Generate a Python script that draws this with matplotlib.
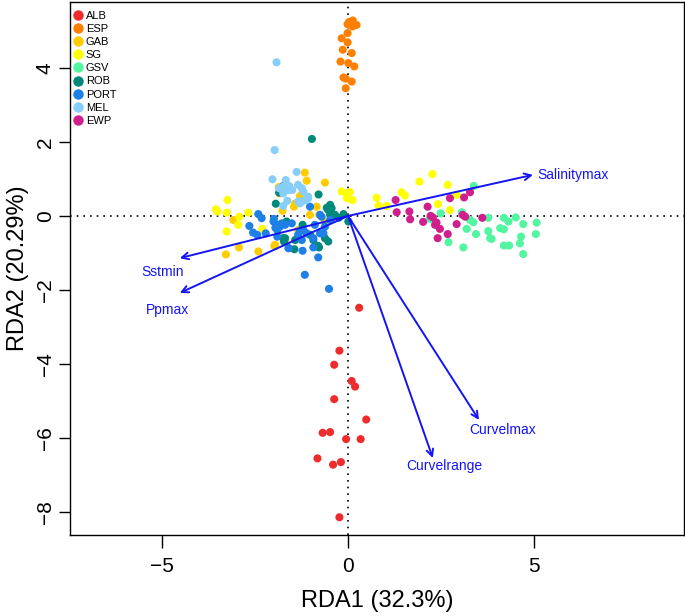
import matplotlib.pyplot as plt
from matplotlib.lines import Line2D

plt.rcParams['font.family'] = ['Liberation Sans', 'DejaVu Sans']

# ── Data (site scores by population) ──────────
groups = ["ALB", "ESP", "GAB", "SG", "GSV", "ROB", "PORT", "MEL", "EWP"]
colors = ["#EE2C2C", "#FF8000", "#FFCC00", "#FFFF00", "#52F5A0",
          "#00897B", "#1E7FE6", "#87CEFA", "#D01F8C"]

alb_x = [0.30, -0.23, -0.37, 0.10, 0.19, -0.37, 0.49, -0.68, -0.48, -0.05, 0.34, -0.82, -0.40, -0.19, -0.23]
alb_y = [-2.48, -3.64, -4.02, -4.46, -4.61, -4.95, -5.50, -5.86, -5.84, -6.03, -6.03, -6.55, -6.72, -6.65, -8.14]

esp_x = [0.03, 0.13, 0.23, 0.12, -0.01, -0.01, -0.17, -0.01, -0.14, 0.10, -0.20, 0.01, 0.17, -0.12, -0.06, 0.10, -0.06]
esp_y = [5.24, 5.28, 5.16, 5.12, 5.18, 4.94, 4.80, 4.69, 4.49, 4.40, 4.17, 4.13, 4.04, 3.74, 3.71, 3.63, 3.45]

gab_x = [-3.08, -2.93, -2.41, -3.28, -1.98, -1.76, -1.86, -1.16, -1.11, -0.62, -1.29, -1.45, -1.02,
         -1.72, -1.34, -0.62, -1.83, -1.42, -1.27, -0.77, -0.84, -1.96, -1.69]
gab_y = [-0.11, -0.85, -0.96, -1.04, -0.81, 0.14, 0.78, 1.17, 0.95, 0.90, 0.54, 0.25, 0.03,
         -0.62, -0.38, -0.15, 0.61, 0.34, 0.39, 0.03, 0.25, -0.78, -0.69]

sg_x = [-3.24, -3.55, -3.51, -3.26, -2.92, -2.95, -2.68, -3.26, -2.30, -0.17, -0.03, 0.05, 0.12, -0.03,
        0.77, 0.82, 1.04, 1.44, 1.53, 1.92, 2.27, 2.68, 2.42, 2.74, 2.92]
sg_y = [0.43, 0.18, 0.12, 0.09, -0.02, -0.24, 0.09, -0.42, -0.35, 0.66, 0.61, 0.64, 0.43, 0.48,
        0.49, 0.28, 0.27, 0.64, 0.55, 0.93, 1.13, 0.84, 0.32, 0.16, 0.57]

gsv_x = [3.38, 2.49, 2.20, 3.06, 3.28, 3.37, 3.77, 3.19, 3.44, 3.77, 3.82, 3.86, 4.09, 4.19,
         4.19, 4.31, 4.51, 4.71, 5.07, 5.05, 4.65, 2.70, 3.10, 4.19, 4.33, 4.62, 4.71]
gsv_y = [0.81, 0.07, -0.08, 0.10, -0.11, -0.17, -0.05, -0.35, -0.49, -0.41, -0.60, -0.62, -0.33, -0.36,
         -0.05, -0.15, -0.04, -0.22, -0.18, -0.49, -0.56, -0.71, -0.85, -0.80, -0.80, -0.74, -1.03]

rob_x = [-0.97, -1.94, -0.79, -1.85, -0.48, -0.44, -0.53, -0.35, -0.48, -0.40, -0.57, -1.65, -1.22,
         -1.02, -0.93, -1.42, -1.69, -1.72, -0.62, -0.80, -0.53, -1.44, -1.74, -0.78, 0.01, -0.25, -0.12]
rob_y = [2.08, 0.33, 0.58, 0.63, 0.30, 0.21, 0.16, 0.03, 0.03, -0.02, 0.22, -0.15, -0.24,
         -0.51, -0.65, -0.65, -0.60, -0.69, -0.60, -0.81, -0.69, -0.90, -0.60, -0.85, -0.15, -0.05, 0.05]

port_x = [-2.41, -2.32, -2.65, -2.55, -2.44, -2.21, -1.99, -1.91, -1.83, -1.90, -1.78, -1.69, -1.90,
          -1.60, -1.74, -1.02, -1.51, -1.29, -1.20, -1.11, -1.34, -1.24, -0.75, -0.75, -0.93, -1.59,
          -1.22, -0.93, -0.80, -1.16, -0.62, -0.48, -0.71, -0.89, -0.66, -0.51, -2.00, -1.95]
port_y = [0.05, -0.06, -0.27, -0.45, -0.51, -0.47, -0.08, -0.24, -0.29, -0.38, -0.20, -0.24, -0.56,
          -0.87, 0.81, 0.25, -0.20, -0.42, -0.38, -0.47, -0.51, -0.65, 0.03, -0.47, -0.60, -0.87,
          -0.94, -0.85, -1.12, -1.59, -0.29, -0.11, -0.02, -0.24, -0.47, -1.97, -0.15, -0.32]

mel_x = [-1.92, -1.97, -2.03, -1.38, -1.74, -1.58, -1.60, -1.34, -1.24, -1.20, -1.07, -1.74, -1.63,
         -1.74, -1.34, -1.20, -1.07, -1.67, -1.29, -1.11, -1.50, -1.85]
mel_y = [4.15, 1.78, 0.99, 1.19, 0.79, 0.81, 0.70, 0.84, 0.75, 0.66, 0.52, 0.61, 0.41,
         0.27, 0.39, 0.41, 0.48, 0.97, 0.34, 0.43, 0.70, 0.75]

ewp_x = [1.28, 1.31, 1.65, 1.67, 2.02, 2.14, 2.28, 2.38, 2.34, 2.47, 2.41, 2.68, 2.74, 2.92,
         3.28, 3.12, 3.08, 3.15, 3.61, 2.22]
ewp_y = [0.43, 0.10, 0.12, -0.09, -0.16, 0.25, -0.04, -0.18, -0.24, -0.35, -0.60, -0.49, 0.48, -0.22,
         0.64, 0.50, 0.03, -0.02, -0.05, 0.00]

# ── Environmental vectors ─────────────────────
env_names = ["Salinitymax", "Sstmin", "Ppmax", "Curvelmax", "Curvelrange"]
env_x = [4.97, -4.52, -4.52, 3.52, 2.28]
env_y = [1.11, -1.14, -2.08, -5.51, -6.54]

xs = [alb_x, esp_x, gab_x, sg_x, gsv_x, rob_x, port_x, mel_x, ewp_x]
ys = [alb_y, esp_y, gab_y, sg_y, gsv_y, rob_y, port_y, mel_y, ewp_y]

# ── Plot ──────────────────────────────────────
fig = plt.figure(figsize=(6.85, 6.16), dpi=100)
ax = fig.add_axes([70/685, 81/616, 614/685, 533/616])

ax.axhline(0, color="black", lw=1.2, ls=(0, (1, 3)), zorder=1)
ax.axvline(0, color="black", lw=1.2, ls=(0, (1, 3)), zorder=1)

for gx, gy, c in zip(xs, ys, colors):
    ax.scatter(gx, gy, s=34, color=c, edgecolors="none", zorder=2)

# label offsets in pixels (ha, va, dx, dy)
label_pos = [("left", "center", 4, 0),
             ("center", "center", -17, -14),
             ("center", "center", -12, -17),
             ("center", "center", 24, -10),
             ("center", "center", 11, -8)]

for name, ex, ey, (ha, va, dx, dy) in zip(env_names, env_x, env_y, label_pos):
    ax.annotate("", xy=(ex, ey), xytext=(0, 0),
                arrowprops=dict(arrowstyle="->", color="#1414F5", lw=1.4,
                                mutation_scale=12, shrinkA=0, shrinkB=0),
                zorder=3)
    ax.annotate(name, xy=(ex, ey), xytext=(dx, dy), textcoords="offset pixels",
                ha=ha, va=va, color="#1414F5", fontsize=10)

ax.set_xlim(-7.47, 9.03)
ax.set_ylim(-8.62, 5.78)
ax.set_xticks([-5, 0, 5])
ax.set_yticks([-8, -6, -4, -2, 0, 2, 4])
ax.tick_params(axis="x", direction="out", length=9, width=1, labelsize=15, pad=7)
ax.tick_params(axis="y", direction="out", length=8, width=1, labelsize=15, pad=3)
for lab in ax.get_yticklabels():
    lab.set_rotation(90)
    lab.set_va("center")
ax.set_xlabel("RDA1 (32.3%)", fontsize=17, labelpad=10)
ax.set_ylabel("RDA2 (20.29%)", fontsize=17, labelpad=5)
for sp in ax.spines.values():
    sp.set_linewidth(1)

handles = [Line2D([], [], marker="o", ls="none", color=c, markersize=7.5,
                  markeredgewidth=0) for c in colors]
ax.legend(handles, groups, loc="upper left", bbox_to_anchor=(-0.012, 1.0),
          frameon=False, fontsize=8, handletextpad=0.1, labelspacing=0.28,
          handlelength=1.2, borderaxespad=0.4)

plt.savefig("out.png", dpi=100)
